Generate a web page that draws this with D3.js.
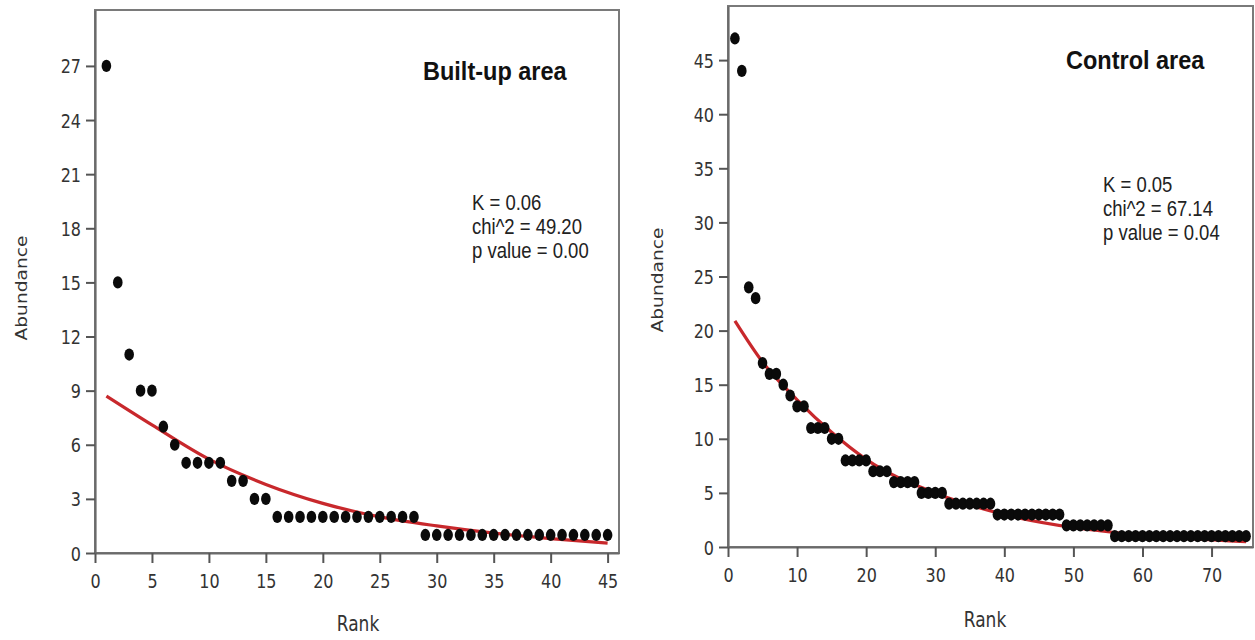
<!DOCTYPE html>
<html>
<head>
<meta charset="utf-8">
<script src="https://cdn.jsdelivr.net/npm/d3@7"></script>
<style>
  body { margin: 0; background: #fff; }
  svg { display: block; }
</style>
</head>
<body>
<div id="chart"></div>
<script>
// abundance per rank (rank = position + 1)
const builtAbundance = [27, 15, 11, 9, 9, 7, 6, 5, 5, 5, 5, 4, 4, 3, 3,
  2, 2, 2, 2, 2, 2, 2, 2, 2, 2, 2, 2, 2,
  1, 1, 1, 1, 1, 1, 1, 1, 1, 1, 1, 1, 1, 1, 1, 1, 1];
const controlAbundance = [47, 44, 24, 23, 17, 16, 16, 15, 14, 13, 13, 11, 11, 11, 10, 10,
  8, 8, 8, 8, 7, 7, 7, 6, 6, 6, 6, 5, 5, 5, 5,
  4, 4, 4, 4, 4, 4, 4,
  3, 3, 3, 3, 3, 3, 3, 3, 3, 3,
  2, 2, 2, 2, 2, 2, 2,
  1, 1, 1, 1, 1, 1, 1, 1, 1, 1, 1, 1, 1, 1, 1, 1, 1, 1, 1, 1];

// fitted geometric series [rank, abundance]
const builtFit = [[1, 8.7], [5, 7.1], [10, 5.2], [15, 3.8], [20, 2.75], [25, 2.0],
  [30, 1.5], [35, 1.1], [40, 0.8], [45, 0.55]];
const controlFit = [[1, 20.9], [5, 17.1], [10, 13.6], [15, 10.6], [20, 8.1], [30, 5.0],
  [40, 3.0], [50, 1.8], [60, 1.1], [75, 0.5]];

const builtYTicks = [0, 3, 6, 9, 12, 15, 18, 21, 24, 27];
const builtXTicks = [0, 5, 10, 15, 20, 25, 30, 35, 40, 45];
const controlYTicks = [0, 5, 10, 15, 20, 25, 30, 35, 40, 45];
const controlXTicks = [0, 10, 20, 30, 40, 50, 60, 70];

const builtStats = ["K = 0.06", "chi^2 = 49.20", "p value = 0.00"];
const controlStats = ["K = 0.05", "chi^2 = 67.14", "p value = 0.04"];

const svg = d3.select("#chart")
  .append("svg")
  .attr("width", 1255)
  .attr("height", 640);

const sy = 1.2; // the figure text is stretched vertically

function drawPanel(cfg) {
  const x = d3.scaleLinear().domain(cfg.xDomain).range([cfg.left, cfg.right]);
  const y = d3.scaleLinear().domain(cfg.yDomain).range([cfg.bottom, cfg.top]);

  // frame
  svg.append("rect")
    .attr("x", cfg.left)
    .attr("y", cfg.top)
    .attr("width", cfg.right - cfg.left)
    .attr("height", cfg.bottom - cfg.top)
    .attr("fill", "none")
    .attr("stroke", "#7a7a7a")
    .attr("stroke-width", 2);

  const xAxis = svg.append("g")
    .attr("transform", `translate(0,${cfg.bottom})`)
    .call(d3.axisBottom(x).tickValues(cfg.xTicks).tickSize(10).tickSizeOuter(0));

  const yAxis = svg.append("g")
    .attr("transform", `translate(${cfg.left},0)`)
    .call(d3.axisLeft(y).tickValues(cfg.yTicks).tickSize(9).tickSizeOuter(0));

  [xAxis, yAxis].forEach(a => {
    a.select(".domain").attr("stroke", "#6a6a6a").attr("stroke-width", 2.2);
    a.selectAll(".tick line").attr("stroke", "#555").attr("stroke-width", 2);
    a.selectAll(".tick text")
      .attr("font-family", "DejaVu Sans, Verdana, sans-serif")
      .attr("font-size", 16)
      .attr("fill", "#333")
      .attr("dy", null)
      .attr("transform", `scale(1,${sy})`);
  });
  xAxis.selectAll(".tick text").attr("y", cfg.xLabelDy / sy);
  yAxis.selectAll(".tick text").attr("x", -14).attr("y", 7 / sy);

  // axis titles
  svg.append("text")
    .attr("transform", `translate(${cfg.rankX},${cfg.rankY}) scale(1,1.25)`)
    .attr("text-anchor", "middle")
    .attr("font-family", "DejaVu Sans, Verdana, sans-serif")
    .attr("font-size", 17)
    .attr("fill", "#333")
    .text("Rank");

  svg.append("text")
    .attr("transform", `translate(${cfg.abX},${cfg.abY}) rotate(-90) scale(1.13,1)`)
    .attr("text-anchor", "middle")
    .attr("font-family", "DejaVu Sans, Verdana, sans-serif")
    .attr("font-size", 16.5)
    .attr("fill", "#333")
    .text("Abundance");

  // fitted curve
  const line = d3.line()
    .x(d => x(d[0]))
    .y(d => y(d[1]))
    .curve(d3.curveMonotoneX);

  svg.append("path")
    .datum(cfg.fit)
    .attr("d", line)
    .attr("fill", "none")
    .attr("stroke", "#c8282c")
    .attr("stroke-width", 3.2);

  // observed abundances
  svg.append("g")
    .selectAll("ellipse")
    .data(cfg.data)
    .enter()
    .append("ellipse")
    .attr("cx", (d, i) => x(i + 1))
    .attr("cy", d => y(d))
    .attr("rx", 4.8)
    .attr("ry", 6.1)
    .attr("fill", "#0a0a0a");

  // title
  svg.append("text")
    .attr("transform", `translate(${cfg.titleX},${cfg.titleY}) scale(1,1.09)`)
    .attr("font-family", "Liberation Sans, Arial, sans-serif")
    .attr("font-weight", "bold")
    .attr("font-size", 23.5)
    .attr("fill", "#111")
    .text(cfg.title);

  // stats
  svg.append("g")
    .selectAll("text")
    .data(cfg.stats)
    .enter()
    .append("text")
    .attr("transform", (d, i) => `translate(${cfg.statX},${cfg.statY + i * 24}) scale(1,1.18)`)
    .attr("font-family", "Liberation Sans, Arial, sans-serif")
    .attr("font-size", 18.5)
    .attr("fill", "#222")
    .text(d => d);
}

drawPanel({
  data: builtAbundance, fit: builtFit,
  xDomain: [0, 46], yDomain: [0, 30.1],
  left: 95, right: 619, top: 10, bottom: 553,
  xTicks: builtXTicks, yTicks: builtYTicks, xLabelDy: 35,
  rankX: 358, rankY: 631, abX: 27, abY: 288,
  title: "Built-up area", titleX: 423, titleY: 80,
  stats: builtStats, statX: 472, statY: 210
});

drawPanel({
  data: controlAbundance, fit: controlFit,
  xDomain: [0, 76], yDomain: [0, 50],
  left: 728, right: 1253, top: 6, bottom: 547,
  xTicks: controlXTicks, yTicks: controlYTicks, xLabelDy: 35,
  rankX: 985, rankY: 627, abX: 663, abY: 280,
  title: "Control area", titleX: 1066, titleY: 69,
  stats: controlStats, statX: 1103, statY: 192
});
</script>
</body>
</html>
